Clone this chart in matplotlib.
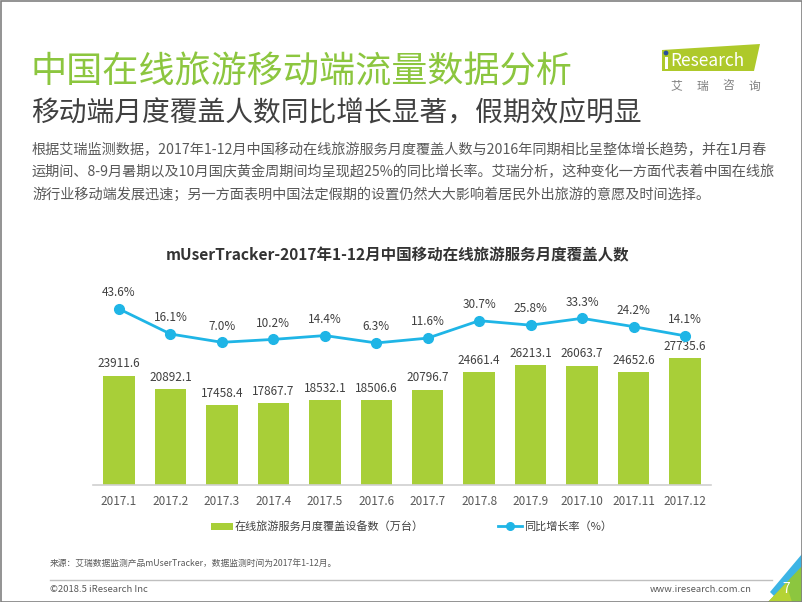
import matplotlib
matplotlib.use('Agg')
import matplotlib.pyplot as plt
from matplotlib.patches import Polygon, Rectangle, Circle
import numpy as np

plt.rcParams['font.family'] = ['Noto Sans CJK SC', 'DejaVu Sans']

# ---------------- data ----------------
months = ['2017.1', '2017.2', '2017.3', '2017.4', '2017.5', '2017.6',
          '2017.7', '2017.8', '2017.9', '2017.10', '2017.11', '2017.12']
devices = [23911.6, 20892.1, 17458.4, 17867.7, 18532.1, 18506.6,
           20796.7, 24661.4, 26213.1, 26063.7, 24652.6, 27735.6]
growth = [43.6, 16.1, 7.0, 10.2, 14.4, 6.3, 11.6, 30.7, 25.8, 33.3, 24.2, 14.1]

title = '中国在线旅游移动端流量数据分析'
subtitle = '移动端月度覆盖人数同比增长显著，假期效应明显'
body = ['根据艾瑞监测数据，2017年1-12月中国移动在线旅游服务月度覆盖人数与2016年同期相比呈整体增长趋势，并在1月春',
        '运期间、8-9月暑期以及10月国庆黄金周期间均呈现超25%的同比增长率。艾瑞分析，这种变化一方面代表着中国在线旅',
        '游行业移动端发展迅速；另一方面表明中国法定假期的设置仍然大大影响着居民外出旅游的意愿及时间选择。']
chart_title = 'mUserTracker-2017年1-12月中国移动在线旅游服务月度覆盖人数'
legend_bar = '在线旅游服务月度覆盖设备数（万台）'
legend_line = '同比增长率（%）'
source = '来源：艾瑞数据监测产品mUserTracker，数据监测时间为2017年1-12月。'
copyright_txt = '©2018.5 iResearch Inc'
website = 'www.iresearch.com.cn'
page = '7'

# ---------------- style ----------------
GREEN_T = '#8cc63f'
BAR = '#a8cf38'
LINE = '#1fb5e6'
DARK = '#404040'
GRAY = '#595959'

W, H = 802, 602
fig = plt.figure(figsize=(W / 100, H / 100), dpi=100)
bg = fig.add_axes([0, 0, 1, 1])
bg.axis('off')


def px_axes(l, t, r, b):
    return [l / W, 1 - b / H, (r - l) / W, (b - t) / H]


# headings
bg.text(31, 72, title, fontsize=26, color=GREEN_T, va='center', ha='left')
bg.text(31, 113, subtitle, fontsize=20, color=DARK, va='center', ha='left')
for i, line in enumerate(body):
    bg.text(32, 150 + i * 22.5, line, fontsize=10.2, color=GRAY, va='center', ha='left')

bg.text(398, 255, chart_title, fontsize=11.2, fontweight='bold', color='#333333',
        va='center', ha='center')

# logo
bg.add_patch(Polygon([(662, 50), (760, 44), (754, 71), (662, 71)], closed=True,
                     color='#aec92a', lw=0))
bg.add_patch(Rectangle((664.5, 57), 3, 12, color='white', lw=0))
bg.add_patch(Circle((666, 53), 2.4, color='#2a4f9c', lw=0))
bg.text(670, 61, 'Research', fontsize=12.5, color='white', va='center', ha='left')
for cx, ch in zip([676, 702, 728, 754], '艾瑞咨询'):
    bg.text(cx, 86, ch, fontsize=8.5, color='#7f7f7f', va='center', ha='center')

# legend
bg.add_patch(Rectangle((211, 522.5), 22, 7, color=BAR, lw=0))
bg.text(235, 526, legend_bar, fontsize=8, color=DARK, va='center', ha='left')
bg.plot([498, 522], [526, 526], color=LINE, lw=2)
bg.plot([510], [526], 'o', color=LINE, ms=5.5)
bg.text(524, 526, legend_line, fontsize=8, color=DARK, va='center', ha='left')

# footer
bg.text(50, 563, source, fontsize=6.3, color=GRAY, va='center', ha='left')
bg.plot([50, 772], [580, 580], color='#bfbfbf', lw=1)
bg.text(50, 590, copyright_txt, fontsize=6.8, color=GRAY, va='center', ha='left')
bg.text(752, 590, website, fontsize=6.8, color=GRAY, va='center', ha='right')

# corner decoration
bg.add_patch(Polygon([(770, 592), (802, 554), (802, 572), (778, 600)], closed=True,
                     color='#3cb4e5', lw=0))
bg.add_patch(Polygon([(768, 602), (802, 566), (802, 602)], closed=True,
                     color='#8cc63f', lw=0))
bg.add_patch(Polygon([(768, 602), (786, 583), (792, 602)], closed=True,
                     color='#b5d334', lw=0))
bg.text(786, 589, page, fontsize=10, color='white', va='center', ha='center')

# border
bg.add_patch(Rectangle((0.5, 0.5), W - 1, H - 1, fill=False, ec='#808080', lw=1.2))

bg.set_xlim(0, W)
bg.set_ylim(H, 0)

# ---------------- chart ----------------
ax = fig.add_axes(px_axes(93.3, 300, 710.7, 485))
ax.patch.set_alpha(0)
x = np.arange(len(months))
ax.bar(x, devices, width=0.61, color=BAR, zorder=2)
ax.set_xlim(-0.5, len(months) - 0.5)
ax.set_ylim(0, 40455)
ax.set_xticks(x)
ax.set_xticklabels(months, fontsize=8.5, color=GRAY)
ax.tick_params(axis='x', length=0, pad=7)
ax.set_yticks([])
for s in ['top', 'left', 'right']:
    ax.spines[s].set_visible(False)
ax.spines['bottom'].set_color('#d0d0d0')
ax.spines['bottom'].set_linewidth(1.2)
for xi, v in zip(x, devices):
    ax.annotate(f'{v:.1f}', (xi, v), xytext=(0, 4), textcoords='offset points',
                ha='center', va='bottom', fontsize=8.5, color=DARK)

ax2 = ax.twinx()
ax2.plot(x, growth, color=LINE, lw=2, marker='o', ms=7, zorder=3)
ax2.set_ylim(-149.5, 53.4)
ax2.set_yticks([])
for s in ax2.spines.values():
    s.set_visible(False)
for xi, v in zip(x, growth):
    ax2.annotate(f'{v:.1f}%', (xi, v), xytext=(0, 7), textcoords='offset points',
                 ha='center', va='bottom', fontsize=8.5, color=DARK)

fig.savefig('out.png', dpi=100)
